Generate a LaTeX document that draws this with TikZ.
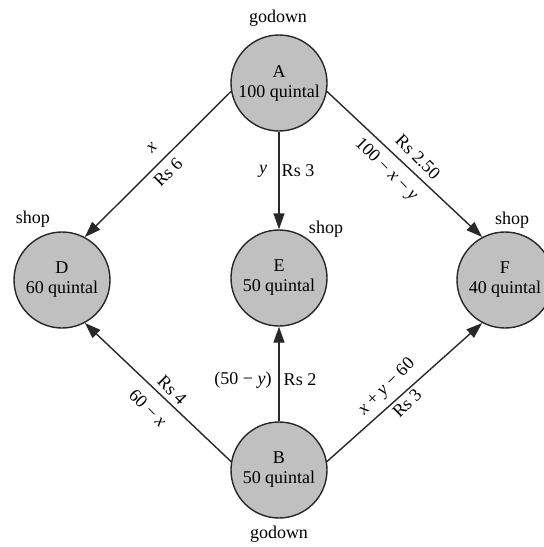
\documentclass[tikz,border=0pt]{standalone}
\usepackage{fontspec}
\setmainfont{Liberation Serif}
\usetikzlibrary{arrows.meta}
\definecolor{nodefill}{RGB}{192,192,192}
\definecolor{linecol}{RGB}{40,40,40}
\begin{document}
\begin{tikzpicture}[x=1pt,y=-1pt,
  every node/.style={font=\fontsize{18}{21}\selectfont, inner sep=0pt},
  place/.style={circle, draw=linecol, line width=1.4pt, fill=nodefill, minimum size=96pt, align=center},
  flow/.style={draw=linecol, line width=1.4pt, -{Triangle[length=16pt,width=11pt]}},
  lbl/.style={}]
\useasboundingbox (0,0) rectangle (544,547);
\node[place] (A) at (279,83) {A\\[-1pt]100 quintal};
\node[place] (D) at (62,280) {D\\[-1pt]60 quintal};
\node[place] (E) at (279,278) {E\\[-1pt]50 quintal};
\node[place] (F) at (505,280) {F\\[-1pt]40 quintal};
\node[place] (B) at (279,470) {B\\[-1pt]50 quintal};
\node[lbl] (gA) at (278,18) {godown};
\node[lbl] (gB) at (279,534) {godown};
\node[lbl] (sD) at (33,219) {shop};
\node[lbl] (sE) at (326,229) {shop};
\node[lbl] (sF) at (512,220) {shop};
\draw[flow] (A.190) -- (D.62);
\draw[flow] (A.270) -- (E.90);
\draw[flow] (A.350) -- (F.118);
\draw[flow] (B.170) -- (D.298);
\draw[flow] (B.90) -- (E.270);
\draw[flow] (B.10) -- (F.242);
\node[lbl, rotate=45] (l1) at (152,148) {\textit{x}};
\node[lbl, rotate=45] (l2) at (168,172) {Rs 6};
\node[lbl] (l3) at (263,171) {\textit{y}};
\node[lbl] (l4) at (298,171) {Rs 3};
\node[lbl, rotate=-45] (l5) at (418,157) {Rs 2.50};
\node[lbl, rotate=-45] (l6) at (386,170) {100 − \textit{x} − \textit{y}};
\node[lbl] (l7) at (243,380) {(50 − \textit{y})};
\node[lbl] (l8) at (300,380) {Rs 2};
\node[lbl, rotate=-45] (l9) at (172,390) {Rs 4};
\node[lbl, rotate=-45] (l10) at (148,408) {60 − \textit{x}};
\node[lbl, rotate=45] (l11) at (387,387) {\textit{x} + \textit{y} − 60};
\node[lbl, rotate=45] (l12) at (407,403) {Rs 3};
\end{tikzpicture}
\end{document}
